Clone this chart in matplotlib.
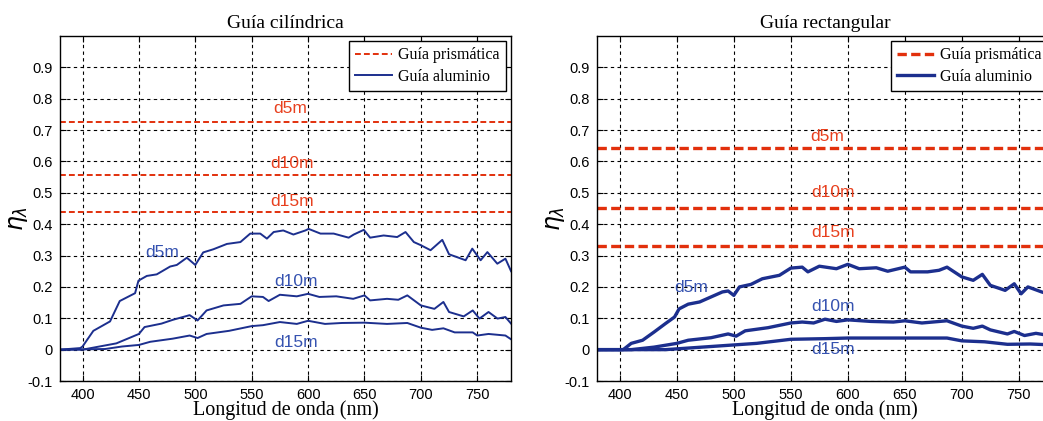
import matplotlib
matplotlib.use("Agg")
import matplotlib.pyplot as plt
import numpy as np

# ---------------- data ----------------
titles = ["Guía cilíndrica", "Guía rectangular"]
legend_labels = ["Guía prismática", "Guía aluminio"]
xticks = [400, 450, 500, 550, 600, 650, 700, 750]
yticks = [-0.1, 0, 0.1, 0.2, 0.3, 0.4, 0.5, 0.6, 0.7, 0.8, 0.9]
ytick_labels = ["-0.1", "0", "0.1", "0.2", "0.3", "0.4", "0.5", "0.6", "0.7", "0.8", "0.9"]
dist_labels = ["d5m", "d10m", "d15m"]

# prismatic guide (constant efficiencies)
prism_cyl = [0.725, 0.558, 0.44]
prism_rect = [0.643, 0.452, 0.33]

# aluminium guide, cylindrical
cyl_d5_wl = [380, 398, 400, 409.6, 424.4, 433, 446.6, 449.6, 457, 465.8, 477.7, 483.6, 492.5, 500, 507,
             516, 528, 540, 548.7, 557.6, 563.5, 569.5, 578, 587, 597.6, 600.5, 611, 622.7, 636, 640.5,
             649.4, 655, 667, 679, 686.4, 693.8, 700, 708.6, 719, 725, 732, 739.7, 745.6, 753, 759,
             767.8, 775, 780]
cyl_d5_v = [0, 0.005, 0.01, 0.06, 0.09, 0.155, 0.18, 0.22, 0.235, 0.24, 0.265, 0.27, 0.293, 0.27, 0.31,
            0.32, 0.337, 0.343, 0.37, 0.37, 0.354, 0.375, 0.38, 0.367, 0.38, 0.385, 0.37, 0.37, 0.357, 0.367,
            0.382, 0.357, 0.364, 0.359, 0.375, 0.343, 0.333, 0.317, 0.35, 0.304, 0.295, 0.285, 0.322, 0.285, 0.311,
            0.274, 0.29, 0.25]
cyl_d10_wl = [380, 400, 430, 440, 450, 455, 470, 480, 495, 502, 510, 525, 540, 550, 560, 565, 575, 590,
              600, 610, 625, 640, 650, 655, 670, 680, 688, 700, 712, 720, 725, 738, 746, 752, 760, 768, 775, 780]
cyl_d10_v = [0, 0, 0.02, 0.035, 0.05, 0.072, 0.083, 0.095, 0.11, 0.093, 0.125, 0.141, 0.146, 0.17, 0.168,
             0.155, 0.175, 0.17, 0.178, 0.168, 0.17, 0.162, 0.173, 0.157, 0.162, 0.159, 0.173, 0.141, 0.13,
             0.152, 0.12, 0.106, 0.125, 0.099, 0.12, 0.099, 0.104, 0.083]
cyl_d15_wl = [380, 420, 435, 450, 460, 480, 495, 502, 510, 530, 550, 560, 575, 590, 600, 615, 630, 650,
              670, 688, 700, 710, 720, 730, 746, 750, 760, 775, 780]
cyl_d15_v = [0, 0.002, 0.01, 0.015, 0.025, 0.035, 0.045, 0.037, 0.05, 0.06, 0.075, 0.078, 0.088, 0.082,
             0.092, 0.082, 0.085, 0.086, 0.082, 0.085, 0.07, 0.063, 0.068, 0.055, 0.055, 0.045, 0.05, 0.045, 0.033]

# aluminium guide, rectangular
rect_d5_wl = [380, 403, 410, 420, 430, 440, 448, 452, 460, 470, 480, 490, 495, 500, 505, 515, 525, 540,
              550, 560, 565, 575, 590, 600, 610, 625, 635, 650, 655, 670, 680, 687, 700, 710, 718, 725,
              738, 746, 752, 758, 770, 780]
rect_d5_v = [0, 0, 0.02, 0.03, 0.056, 0.083, 0.104, 0.13, 0.145, 0.152, 0.168, 0.184, 0.187, 0.173, 0.2,
             0.208, 0.226, 0.237, 0.26, 0.263, 0.248, 0.266, 0.258, 0.272, 0.258, 0.261, 0.25, 0.263, 0.248,
             0.248, 0.253, 0.263, 0.232, 0.221, 0.24, 0.205, 0.189, 0.21, 0.178, 0.2, 0.184, 0.173]
rect_d10_wl = [380, 410, 430, 450, 460, 480, 495, 502, 510, 530, 550, 560, 570, 580, 590, 600, 620, 640,
               650, 665, 687, 700, 710, 718, 725, 740, 746, 755, 765, 780]
rect_d10_v = [0, 0, 0.008, 0.02, 0.03, 0.038, 0.05, 0.043, 0.06, 0.07, 0.085, 0.088, 0.085, 0.097, 0.09,
              0.095, 0.09, 0.088, 0.092, 0.085, 0.092, 0.075, 0.068, 0.075, 0.063, 0.05, 0.058, 0.045, 0.052, 0.043]
rect_d15_wl = [380, 440, 460, 500, 520, 550, 580, 600, 650, 687, 700, 720, 740, 760, 780]
rect_d15_v = [0, 0, 0.005, 0.015, 0.02, 0.033, 0.035, 0.037, 0.037, 0.037, 0.028, 0.025, 0.017, 0.018, 0.015]

# label anchor positions (data coords)
cyl_red_lab = [(584, 0.77), (586, 0.594), (586, 0.473)]
cyl_blue_lab = [(471, 0.31), (589, 0.216), (589, 0.024)]
rect_red_lab = [(582, 0.68), (587, 0.50), (587, 0.374)]
rect_blue_lab = [(463, 0.199), (587, 0.139), (587, 0.0)]

RED = "#e2300c"
BLUE = "#1c2f8e"
RED_TXT = "#e8401e"
BLUE_TXT = "#3552b0"

panels = [
    dict(title=titles[0], prism=prism_cyl,
         curves=[(cyl_d5_wl, cyl_d5_v), (cyl_d10_wl, cyl_d10_v), (cyl_d15_wl, cyl_d15_v)],
         red_lab=cyl_red_lab, blue_lab=cyl_blue_lab, lw=1.4, dlw=1.4, dash=(3, 1.6),
         pos=[0.0575, 0.095, 0.4325, 0.8195]),
    dict(title=titles[1], prism=prism_rect,
         curves=[(rect_d5_wl, rect_d5_v), (rect_d10_wl, rect_d10_v), (rect_d15_wl, rect_d15_v)],
         red_lab=rect_red_lab, blue_lab=rect_blue_lab, lw=2.4, dlw=2.4, dash=(2.8, 1.3),
         pos=[0.5724, 0.095, 0.4372, 0.8195]),
]

fig = plt.figure(figsize=(10.43, 4.21), dpi=100)

serif = ["Liberation Serif", "DejaVu Serif"]
sans = ["Liberation Sans", "DejaVu Sans"]

for p in panels:
    ax = fig.add_axes(p["pos"])
    ax.set_xlim(380, 780)
    ax.set_ylim(-0.1, 1.0)
    ax.set_xticks(xticks)
    ax.set_yticks(yticks)
    ax.set_yticklabels(ytick_labels)
    for lab in ax.get_xticklabels() + ax.get_yticklabels():
        lab.set_fontfamily(sans)
        lab.set_fontsize(10.5)
    ax.tick_params(direction="in", length=4, width=0.8, top=True, right=True, pad=5)
    ax.grid(True, color="black", linestyle=(0, (3, 3)), linewidth=0.8)
    for s in ax.spines.values():
        s.set_linewidth(1.0)

    h1 = None
    for val in p["prism"]:
        h1, = ax.plot([380, 780], [val, val], color=RED, linewidth=p["dlw"],
                      linestyle=(0, p["dash"]))
    h2 = None
    for wl, v in p["curves"]:
        h2, = ax.plot(wl, v, color=BLUE, linewidth=p["lw"])

    for (x, y), t in zip(p["red_lab"], dist_labels):
        ax.text(x, y, t, color=RED_TXT, fontsize=12.5, family=sans, ha="center", va="center")
    for (x, y), t in zip(p["blue_lab"], dist_labels):
        ax.text(x, y, t, color=BLUE_TXT, fontsize=12.5, family=sans, ha="center", va="center")

    ax.set_title(p["title"], fontsize=14, family=serif, pad=6)
    ax.set_xlabel("Longitud de onda (nm)", fontsize=14.5, family=serif, labelpad=-1)
    ax.set_ylabel(r"$\eta_\lambda$", fontsize=17)
    ax.yaxis.set_label_coords(-0.066, 0.47)

    leg = ax.legend([h1, h2], legend_labels, loc="upper right", fancybox=False,
                    framealpha=1, edgecolor="black", borderaxespad=0.3,
                    prop={"family": serif, "size": 11.5}, handlelength=2.3,
                    handletextpad=0.4, labelspacing=0.35, borderpad=0.4)
    leg.get_frame().set_linewidth(1.0)

fig.savefig("out.png", dpi=100)
